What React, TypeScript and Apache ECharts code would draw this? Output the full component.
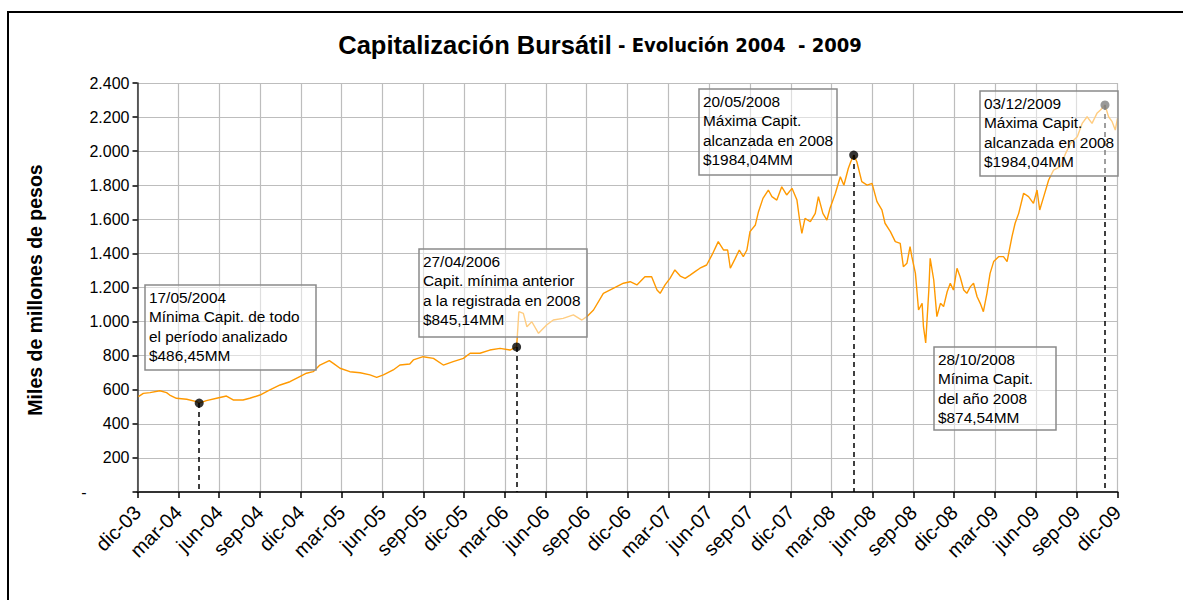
import React, { useEffect, useRef } from "react";
import * as echarts from "echarts";

// ---- Data ----
const tickLabels = [
  "dic-03", "mar-04", "jun-04", "sep-04", "dic-04", "mar-05", "jun-05", "sep-05",
  "dic-05", "mar-06", "jun-06", "sep-06", "dic-06", "mar-07", "jun-07", "sep-07",
  "dic-07", "mar-08", "jun-08", "sep-08", "dic-08", "mar-09", "jun-09", "sep-09", "dic-09",
];

const dates = [
  "2004-01-02", "2004-01-13", "2004-01-28", "2004-02-19", "2004-03-05", "2004-03-12", "2004-03-27", "2004-04-19",
  "2004-05-11", "2004-05-17", "2004-06-02", "2004-06-25", "2004-07-17", "2004-08-01", "2004-08-23", "2004-09-07",
  "2004-09-30", "2004-10-22", "2004-11-14", "2004-12-06", "2004-12-28", "2005-01-12", "2005-01-27", "2005-02-11",
  "2005-03-04", "2005-03-13", "2005-03-28", "2005-04-19", "2005-05-12", "2005-06-03", "2005-06-18", "2005-07-03",
  "2005-07-25", "2005-08-09", "2005-08-31", "2005-09-08", "2005-09-30", "2005-10-23", "2005-11-14", "2005-12-06",
  "2005-12-29", "2006-01-13", "2006-02-04", "2006-02-26", "2006-03-21", "2006-04-12", "2006-04-27", "2006-05-02",
  "2006-05-12", "2006-05-20", "2006-05-31", "2006-06-15", "2006-07-03", "2006-07-18", "2006-08-09", "2006-09-01",
  "2006-09-20", "2006-10-01", "2006-10-16", "2006-11-07", "2006-11-29", "2006-12-22", "2007-01-06", "2007-01-21",
  "2007-02-08", "2007-02-23", "2007-03-07", "2007-03-14", "2007-03-25", "2007-04-05", "2007-04-16", "2007-04-28",
  "2007-05-09", "2007-05-20", "2007-05-31", "2007-06-11", "2007-06-26", "2007-07-08", "2007-07-22", "2007-08-03",
  "2007-08-12", "2007-08-18", "2007-08-29", "2007-09-07", "2007-09-16", "2007-09-24", "2007-10-01", "2007-10-13",
  "2007-10-20", "2007-10-30", "2007-11-11", "2007-11-19", "2007-11-30", "2007-12-11", "2007-12-22", "2008-01-03",
  "2008-01-14", "2008-01-20", "2008-01-25", "2008-02-01", "2008-02-13", "2008-02-24", "2008-03-02", "2008-03-12",
  "2008-03-21", "2008-03-28", "2008-04-09", "2008-04-20", "2008-04-28", "2008-05-08", "2008-05-13", "2008-05-20",
  "2008-05-27", "2008-06-07", "2008-06-19", "2008-06-30", "2008-07-11", "2008-07-22", "2008-07-29", "2008-08-10",
  "2008-08-21", "2008-09-01", "2008-09-08", "2008-09-16", "2008-09-23", "2008-09-27", "2008-10-05", "2008-10-12",
  "2008-10-20", "2008-10-23", "2008-10-28", "2008-11-04", "2008-11-07", "2008-11-15", "2008-11-22", "2008-11-30",
  "2008-12-07", "2008-12-15", "2008-12-22", "2008-12-29", "2009-01-06", "2009-01-13", "2009-01-21", "2009-01-28",
  "2009-02-05", "2009-02-12", "2009-02-20", "2009-02-27", "2009-03-06", "2009-03-14", "2009-03-21", "2009-03-29",
  "2009-04-09", "2009-04-20", "2009-04-28", "2009-05-09", "2009-05-16", "2009-05-24", "2009-06-04", "2009-06-15",
  "2009-06-26", "2009-07-04", "2009-07-10", "2009-07-19", "2009-07-30", "2009-08-10", "2009-08-25", "2009-09-06",
  "2009-09-17", "2009-10-02", "2009-10-13", "2009-10-24", "2009-11-04", "2009-11-15", "2009-11-23", "2009-12-03",
  "2009-12-11", "2009-12-19", "2009-12-26", "2009-12-31",
];

const values = [
  560, 579, 583, 594, 583, 569, 550, 544,
  530, 522, 536, 550, 563, 540, 540, 550,
  569, 599, 628, 647, 677, 697, 706, 745,
  771, 755, 726, 706, 700, 687, 673, 687,
  716, 745, 751, 775, 794, 784, 745, 765,
  784, 814, 814, 833, 843, 833, 851, 1058,
  1048, 970, 999, 931, 980, 1009, 1019, 1039,
  1009, 1029, 1068, 1166, 1195, 1225, 1234, 1215,
  1263, 1263, 1185, 1166, 1215, 1254, 1303, 1267,
  1254, 1273, 1293, 1313, 1332, 1391, 1469, 1420,
  1420, 1313, 1371, 1420, 1381, 1420, 1528, 1567,
  1645, 1723, 1772, 1733, 1713, 1791, 1743, 1782,
  1713, 1596, 1518, 1606, 1586, 1635, 1733, 1635,
  1596, 1665, 1753, 1850, 1800, 1900, 1935, 1977,
  1938, 1821, 1801, 1811, 1704, 1655, 1577, 1528,
  1469, 1459, 1322, 1342, 1440, 1381, 1283, 1068,
  1107, 970, 875, 1185, 1371, 1244, 1029, 1107,
  1088, 1175, 1225, 1185, 1313, 1263, 1185, 1166,
  1205, 1225, 1146, 1107, 1058, 1166, 1283, 1352,
  1381, 1381, 1352, 1498, 1577, 1635, 1753, 1733,
  1694, 1772, 1655, 1733, 1831, 1889, 1909, 1987,
  2046, 2085, 2163, 2202, 2163, 2222, 2242, 2271,
  2202, 2173, 2124, 2193,
];

// Marked points (dot + dashed drop line)
const markDates = ["2004-05-17", "2006-04-27", "2008-05-20", "2009-12-03"];
const markValues = [522, 851, 1977, 2271];

// Annotation texts
const noteTexts = [
  ["17/05/2004", "Mínima Capit. de todo", "el período analizado", "$486,45MM"],
  ["27/04/2006", "Capit. mínima anterior", "a la registrada en 2008", "$845,14MM"],
  ["20/05/2008", "Máxima Capit.", "alcanzada en 2008", "$1984,04MM"],
  ["03/12/2009", "Máxima Capit.", "alcanzada en 2008", "$1984,04MM"],
  ["28/10/2008", "Mínima Capit.", "del año 2008", "$874,54MM"],
];

// ---- Layout (pixels) ----
const noteBoxes = [
  { x: 145, y: 285, w: 171, h: 85 },
  { x: 419, y: 249, w: 168, h: 88 },
  { x: 699, y: 89, w: 138, h: 86 },
  { x: 980, y: 91, w: 138, h: 85 },
  { x: 934, y: 347, w: 122, h: 83 },
];

const AXIS_START = Date.UTC(2003, 11, 31);
const AXIS_END = Date.UTC(2009, 11, 31);
const QUARTERS = 24;
const toQ = (s: string) => {
  const [y, m, d] = s.split("-").map(Number);
  return ((Date.UTC(y, m - 1, d) - AXIS_START) / (AXIS_END - AXIS_START)) * QUARTERS;
};

const fmtY = (v: number) => {
  if (v === 0) return "{z|-}";
  if (v >= 1000) return `${Math.floor(v / 1000)}.${String(v % 1000).padStart(3, "0")}`;
  return String(v);
};

const FONT = "'Liberation Sans', Arial, sans-serif";

export default function App() {
  const ref = useRef<HTMLDivElement>(null);

  useEffect(() => {
    if (!ref.current) return;
    const chart = echarts.init(ref.current, undefined, { renderer: "svg" });

    const lineData = dates.map((d, i) => [toQ(d), values[i]]);
    const markData = markDates.map((d, i) => [toQ(d), markValues[i]]);

    const graphics: any[] = [
      {
        type: "rect",
        shape: { x: 8, y: 12, width: 1200, height: 620 },
        style: { fill: "none", stroke: "#000", lineWidth: 2 },
        z: 1,
      },
      {
        type: "text",
        x: 600,
        y: 45,
        style: {
          text: "{a|Capitalización Bursátil}{b| - Evolución 2004  - 2009}",
          align: "center",
          verticalAlign: "middle",
          rich: {
            a: { fontFamily: FONT, fontSize: 25.5, fontWeight: "bold", fill: "#000", color: "#000" },
            b: {
              fontFamily: "'Liberation Sans Narrow', 'DejaVu Sans Condensed', Arial, sans-serif",
              fontSize: 20,
              fontWeight: "bold",
              fill: "#000",
              color: "#000",
            },
          },
        },
        z: 20,
      },
      {
        type: "text",
        x: 35,
        y: 290,
        rotation: Math.PI / 2,
        style: {
          text: "Miles de millones de pesos",
          fontFamily: FONT,
          fontSize: 19.5,
          fontWeight: "bold",
          fill: "#000",
          align: "center",
          verticalAlign: "middle",
        },
        z: 20,
      },
    ];

    noteBoxes.forEach((b, i) => {
      graphics.push({
        type: "rect",
        shape: { x: b.x, y: b.y, width: b.w, height: b.h },
        style: { fill: "rgba(255,255,255,0.5)", stroke: "#8a8a8a", lineWidth: 1.5 },
        z: 30,
      });
      graphics.push({
        type: "text",
        x: b.x + 4,
        y: b.y + 2.5,
        style: {
          text: noteTexts[i].join("\n"),
          fontFamily: FONT,
          fontSize: 15.4,
          lineHeight: 19.5,
          fill: "#000",
          align: "left",
          verticalAlign: "top",
        },
        z: 31,
      });
    });

    chart.setOption({
      animation: false,
      backgroundColor: "#fff",
      grid: { left: 137.5, right: 65.5, top: 83, bottom: 108, containLabel: false },
      xAxis: {
        type: "value",
        min: 0,
        max: QUARTERS,
        interval: 1,
        axisLine: { show: true, onZero: false, lineStyle: { color: "#333", width: 2 } },
        axisTick: { show: true, length: 6, lineStyle: { color: "#000", width: 1.5 } },
        splitLine: { show: true, lineStyle: { color: "#bdbdbd", width: 1.2 } },
        axisLabel: {
          rotate: 45,
          margin: 17,
          fontFamily: FONT,
          fontSize: 20,
          color: "#000",
          showMinLabel: true,
          showMaxLabel: true,
          formatter: (v: number) => tickLabels[Math.round(v)] ?? "",
        },
      },
      yAxis: {
        type: "value",
        min: 0,
        max: 2400,
        interval: 200,
        axisLine: { show: true, lineStyle: { color: "#333", width: 1.5 } },
        axisTick: { show: true, length: 5, lineStyle: { color: "#000", width: 1.5 } },
        splitLine: { show: true, lineStyle: { color: "#bdbdbd", width: 1.2 } },
        axisLabel: {
          margin: 8,
          fontFamily: FONT,
          fontSize: 16,
          color: "#000",
          formatter: (v: number) => fmtY(v),
          rich: {
            z: { fontFamily: FONT, fontSize: 16, color: "#000", padding: [0, 43, 0, 0] },
          },
        },
      },
      series: [
        {
          type: "line",
          data: lineData,
          showSymbol: false,
          symbol: "none",
          lineStyle: { color: "#FF9900", width: 1.4 },
          z: 2,
        },
        {
          type: "scatter",
          data: markData,
          symbol: "circle",
          symbolSize: 9,
          itemStyle: { color: "#000" },
          z: 4,
          markLine: {
            silent: true,
            symbol: ["none", "none"],
            label: { show: false },
            lineStyle: { color: "#000", type: [5, 4], width: 1.5 },
            data: markData.map((p) => [{ coord: [p[0], p[1]] }, { coord: [p[0], 0] }]),
          },
        },
      ],
      graphic: graphics,
    });

    return () => chart.dispose();
  }, []);

  return (
    <div
      ref={ref}
      style={{ position: "absolute", left: 0, top: 0, width: 1183, height: 600 }}
    />
  );
}
